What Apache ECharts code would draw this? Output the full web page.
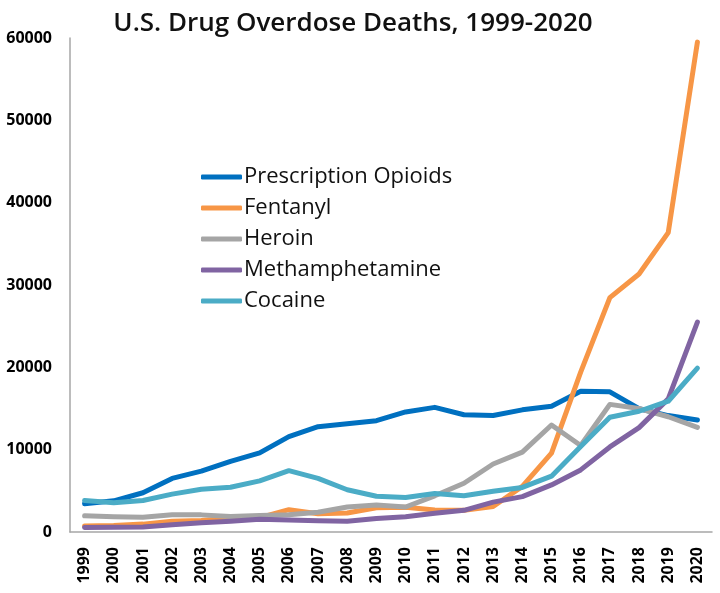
<!DOCTYPE html>
<html>
<head>
<meta charset="utf-8">
<script src="https://cdn.jsdelivr.net/npm/echarts@6/dist/echarts.min.js"></script>
<style>html,body{margin:0;padding:0;background:#fff}#c{width:720px;height:593px}</style>
</head>
<body>
<div id="c"></div>
<script>
const years = ['1999','2000','2001','2002','2003','2004','2005','2006','2007','2008','2009','2010','2011','2012','2013','2014','2015','2016','2017','2018','2019','2020'];
const prescriptionOpioids = [3442,3785,4770,6509,7397,8577,9612,11589,12796,13149,13523,14583,15140,14240,14145,14838,15281,17087,17029,14975,14139,13600];
const fentanyl = [730,782,957,1295,1400,1664,1742,2707,2213,2306,2946,3007,2666,2628,3105,5544,9580,19413,28466,31335,36359,59500];
const heroin = [1960,1842,1779,2089,2080,1878,2009,2088,2399,3041,3278,3036,4397,5925,8257,9700,13000,10500,15500,15000,14000,12700];
const methamphetamine = [547,578,606,893,1131,1304,1550,1470,1370,1300,1632,1854,2266,2635,3627,4298,5716,7542,10333,12676,16167,25500];
const cocaine = [3822,3544,3833,4599,5199,5443,6208,7448,6512,5129,4350,4183,4681,4404,4944,5415,6784,10375,13942,14666,15883,19900];
const yTicks = [0,10000,20000,30000,40000,50000,60000];

const font = "'Open Sans', 'Noto Sans', sans-serif";
const mk = (name, data, color) => ({
  name, type: 'line', data, showSymbol: false, symbol: 'none',
  lineStyle: { width: 5, color, cap: 'round', join: 'round' },
  itemStyle: { color }, z: 2
});
const chart = echarts.init(document.getElementById('c'));
chart.setOption({
  animation: false,
  title: {
    text: 'U.S. Drug Overdose Deaths, 1999-2020',
    left: 348, top: 6, textAlign: 'center',
    textStyle: { fontFamily: font, fontSize: 26, fontWeight: 600, color: '#111' }
  },
  legend: {
    orient: 'vertical', left: 196, top: 161, itemGap: 9,
    itemWidth: 41, itemHeight: 5, icon: 'roundRect',
    textStyle: { fontFamily: font, fontSize: 22, color: '#111', lineHeight: 22, padding: [0,0,0,-3] },
    data: ['Prescription Opioids','Fentanyl','Heroin','Methamphetamine','Cocaine']
  },
  grid: { left: 70, right: 8, top: 38, bottom: 61, containLabel: false },
  xAxis: {
    type: 'category', data: years, boundaryGap: true,
    axisLine: { lineStyle: { color: '#a6a6a6', width: 1.5 } },
    axisTick: { show: false },
    axisLabel: { rotate: 90, interval: 0, margin: 15, fontFamily: font, fontSize: 16, fontWeight: 'bold', color: '#000' }
  },
  yAxis: {
    type: 'value', min: 0, max: 60000, interval: 10000,
    axisLine: { show: true, lineStyle: { color: '#a6a6a6', width: 1.5 } },
    axisTick: { show: false },
    splitLine: { show: false },
    axisLabel: { margin: 18, fontFamily: font, fontSize: 16, fontWeight: 'bold', color: '#000',
      formatter: v => yTicks.includes(v) ? String(v) : '' }
  },
  series: [
    mk('Prescription Opioids', prescriptionOpioids, '#0070C0'),
    mk('Fentanyl', fentanyl, '#F79646'),
    mk('Heroin', heroin, '#A5A5A5'),
    mk('Methamphetamine', methamphetamine, '#8064A2'),
    mk('Cocaine', cocaine, '#4BACC6')
  ]
});
</script>
</body>
</html>
